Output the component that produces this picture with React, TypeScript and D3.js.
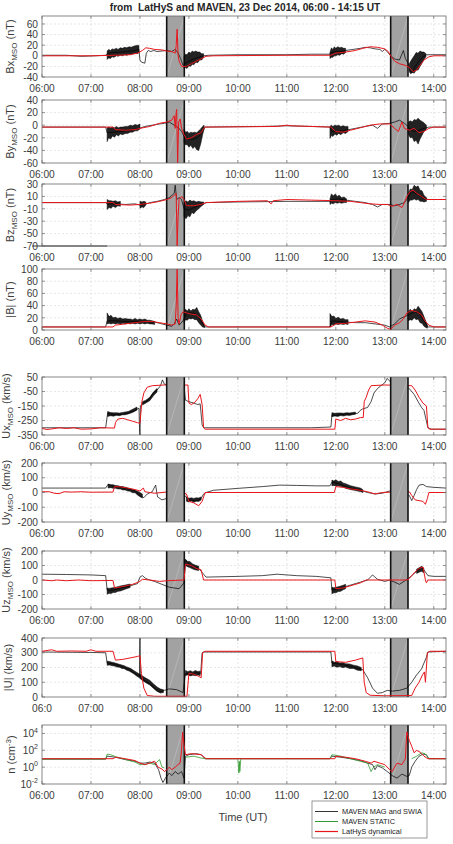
import * as d3 from "d3";
import React from "react";

type Pt = [number, number];
type Env = [number, number, number];

// time axis, decimal hours UT
const hours = [6, 7, 8, 9, 10, 11, 12, 13, 14];
const hourLabels = ["06:00", "07:00", "08:00", "09:00", "10:00", "11:00", "12:00", "13:00", "14:00"];
// shaded intervals (bow shock crossings)
const crossings: [number, number][] = [[8.546, 8.906], [13.12, 13.474]];
const legendNames = ["MAVEN MAG and SWIA", "MAVEN STATIC", "LatHyS dynamical"];

// ---- Bx (nT)
const bxMaven: Pt[] = [[6.0, 1], [6.5, 1], [6.8, -1], [7.1, 0], [7.3, 1], [7.33, 4], [7.45, 6], [7.6, 7], [7.75, 8], [7.9, 10], [7.98, 12], [8.0, -8], [8.03, -12], [8.1, -14], [8.13, 5], [8.17, 10], [8.22, 8], [8.28, 10], [8.35, 8], [8.45, 9], [8.55, 10], [8.65, 8], [8.72, 12], [8.78, 5], [8.83, -5], [8.88, -18], [8.92, -15], [9.0, -10], [9.1, -6], [9.2, -3], [9.3, 0], [9.4, 1], [10.0, 2], [11.0, 2], [11.5, 3], [11.88, 3], [11.9, 6], [12.0, 8], [12.1, 8], [12.2, 10], [12.35, 12], [12.5, 14], [12.6, 16], [12.7, 15], [12.8, 13], [12.9, 12], [12.95, 8], [13.0, 12], [13.05, 8], [13.12, 0], [13.2, -6], [13.3, -8], [13.38, 10], [13.42, -5], [13.48, -15], [13.52, -30], [13.57, -32], [13.62, -20], [13.7, -10], [13.78, -2], [13.85, 2], [14.25, 2]];
const bxMavenNoise: Env[][] = [
  [[7.33, -7, 9], [7.36, -4, 12], [7.4, -5, 10], [7.43, -2, 13], [7.47, -3, 12], [7.52, 0, 14], [7.55, -1, 12], [7.6, 1, 15], [7.64, 0, 14], [7.69, 2, 16], [7.73, 1, 15], [7.78, 3, 17], [7.82, 3, 16], [7.87, 4, 18], [7.91, 5, 19], [7.95, 4, 20], [7.98, 6, 19]],
  [[8.9, -24, -2], [8.93, -22, 3], [8.96, -24, 2], [9.0, -19, 7], [9.03, -20, 5], [9.07, -16, 9], [9.1, -17, 7], [9.14, -12, 9], [9.18, -13, 7], [9.22, -8, 7], [9.26, -8, 4], [9.3, -3, 4]],
  [[11.88, -5, 6], [11.91, -3, 15], [11.94, -3, 12], [11.97, 0, 17], [12.0, 0, 14], [12.04, 2, 17], [12.08, 1, 15], [12.12, 4, 16], [12.16, 3, 14], [12.2, 6, 14]],
  [[13.5, -30, -15], [13.53, -34, -10], [13.57, -31, -4], [13.6, -33, 0], [13.64, -27, 6], [13.68, -27, 5], [13.72, -20, 9], [13.76, -14, 7], [13.8, -7, 7], [13.84, -2, 4]],
];
const bxLathys: Pt[] = [[6.0, 0], [7.0, 0], [7.5, 1], [7.8, 2], [7.95, 5], [8.05, 10], [8.12, 15], [8.2, 14], [8.3, 12], [8.45, 11], [8.55, 9], [8.65, 8], [8.72, 5], [8.74, 20], [8.76, 50], [8.78, 0], [8.8, -10], [8.85, -20], [8.95, -20], [9.05, -15], [9.2, -8], [9.35, -1], [9.5, 0], [11.0, 1], [11.9, 1], [12.0, 5], [12.2, 7], [12.4, 10], [12.55, 14], [12.7, 17], [12.85, 16], [13.0, 13], [13.07, 8], [13.12, 0], [13.2, -10], [13.3, -15], [13.42, -18], [13.5, -22], [13.58, -30], [13.65, -27], [13.72, -18], [13.8, -8], [13.9, -2], [14.0, 0], [14.25, 0]];

// ---- By (nT)
const byMaven: Pt[] = [[6.0, -3], [7.3, -3], [7.33, -12], [7.45, -11], [7.6, -10], [7.8, -8], [7.95, -6], [8.1, -2], [8.25, 0], [8.4, 2], [8.5, 3], [8.6, 5], [8.7, 0], [8.8, -5], [8.85, -10], [8.92, -20], [9.0, -22], [9.1, -22], [9.2, -18], [9.28, -10], [9.33, -3], [10.5, -2], [11.0, -1], [11.5, -2], [11.88, -3], [11.92, -10], [12.05, -10], [12.2, -8], [12.4, -5], [12.6, -2], [12.75, 0], [12.85, -5], [12.95, 2], [13.1, 3], [13.2, 5], [13.3, 8], [13.4, 3], [13.45, 0], [13.5, -5], [13.6, -10], [13.7, -8], [13.8, -5], [13.9, -3], [14.25, -3]];
const byMavenNoise: Env[][] = [
  [[7.33, -26, -4], [7.36, -20, -3], [7.4, -22, -4], [7.44, -17, -3], [7.48, -19, -4], [7.52, -15, -2], [7.56, -17, -4], [7.6, -14, -3], [7.65, -15, -3], [7.7, -13, -2], [7.75, -13, -2], [7.8, -11, 0], [7.85, -11, -1], [7.9, -9, 1], [7.95, -9, 0], [8.0, -6, 2]],
  [[8.9, -28, -6], [8.93, -31, -11], [8.97, -31, -10], [9.0, -35, -13], [9.04, -32, -11], [9.08, -37, -12], [9.12, -34, -11], [9.16, -39, -12], [9.2, -40, -9], [9.24, -30, -6], [9.28, -15, -2], [9.31, -6, 0]],
  [[11.88, -21, -2], [11.91, -16, 0], [11.94, -18, -2], [11.98, -14, 0], [12.02, -16, -1], [12.06, -13, 0], [12.1, -15, -2], [12.15, -12, -1], [12.2, -13, -2], [12.25, -10, -2]],
  [[13.48, -14, 5], [13.52, -20, 7], [13.56, -19, 5], [13.6, -26, 9], [13.64, -24, 8], [13.68, -30, 11], [13.72, -22, 8], [13.76, -16, 6], [13.8, -10, 4], [13.85, -6, 0]],
];
const byLathys: Pt[] = [[6.0, -3], [7.45, -3], [7.5, -7], [7.7, -8], [7.9, -7], [8.0, -5], [8.2, -2], [8.4, 3], [8.55, 5], [8.65, 8], [8.7, 15], [8.72, -5], [8.74, 20], [8.75, 25], [8.77, -60], [8.79, 5], [8.82, 10], [8.85, -5], [8.9, -15], [8.95, -22], [9.05, -20], [9.15, -15], [9.25, -12], [9.32, -3], [10.8, -2], [11.0, 0], [11.1, -1], [11.9, -3], [12.0, -10], [12.15, -11], [12.3, -8], [12.5, -4], [12.7, 0], [12.9, 2], [13.1, 2], [13.2, -5], [13.28, -10], [13.35, 5], [13.4, -5], [13.5, -8], [13.6, -5], [13.7, -12], [13.8, -10], [13.9, -5], [14.0, -3], [14.25, -3]];

// ---- Bz (nT)
const bzMaven: Pt[] = [[6.0, 0], [7.3, 0], [7.33, -2], [7.5, -2], [7.7, -3], [7.9, -2], [8.0, -4], [8.1, -3], [8.2, 0], [8.35, 2], [8.5, 5], [8.6, 8], [8.7, 15], [8.72, 28], [8.75, 5], [8.8, 8], [8.85, 5], [8.9, -10], [9.0, -12], [9.1, -8], [9.2, -5], [9.3, -2], [9.35, 0], [10.0, 1], [11.0, 2], [11.88, 2], [11.92, 5], [12.05, 6], [12.2, 4], [12.4, 2], [12.6, 0], [12.75, -3], [12.85, -7], [12.95, -3], [13.1, -3], [13.2, -5], [13.3, -3], [13.4, 0], [13.48, 8], [13.55, 18], [13.62, 15], [13.7, 12], [13.8, 8], [13.88, 5], [14.25, 5]];
const bzMavenNoise: Env[][] = [
  [[7.33, -11, 5], [7.37, -8, 3], [7.41, -9, 3], [7.45, -6, 2], [7.5, -8, 3], [7.55, -5, 1], [7.6, -6, 2]],
  [[8.0, -9, 2], [8.04, -7, 1], [8.08, -8, 2], [8.12, -4, 1]],
  [[8.9, -22, 0], [8.94, -26, 3], [8.98, -21, 1], [9.02, -23, 4], [9.06, -16, 2], [9.1, -18, 3], [9.15, -13, 1], [9.2, -10, 2], [9.25, -6, 1], [9.3, -3, 1]],
  [[11.88, -3, 6], [11.91, -1, 14], [11.95, -2, 11], [11.99, 0, 14], [12.03, -1, 10], [12.07, 0, 12], [12.12, -1, 8], [12.17, 0, 9], [12.22, 0, 6]],
  [[13.48, 0, 14], [13.52, 4, 22], [13.56, 4, 21], [13.6, 6, 28], [13.64, 4, 25], [13.68, 5, 27], [13.72, 2, 20], [13.76, 2, 19], [13.8, 1, 12], [13.85, 2, 8]],
];
const bzMavenFloor: Pt[] = [[5.8, -70], [7.33, -70]];
const bzLathys: Pt[] = [[6.0, 0], [7.45, 0], [7.5, -3], [7.8, -4], [8.0, -3], [8.2, -1], [8.4, 2], [8.55, 5], [8.65, 8], [8.7, 12], [8.74, 15], [8.76, -72], [8.78, -20], [8.8, 5], [8.85, 10], [8.9, 5], [8.95, -5], [9.1, -5], [9.25, -3], [9.35, 0], [10.0, 2], [10.6, 3], [10.68, -2], [10.72, 3], [11.0, 5], [11.5, 4], [12.0, 3], [12.3, 2], [12.5, 0], [12.7, -2], [12.9, -3], [13.05, -3], [13.15, -6], [13.25, -3], [13.35, -8], [13.4, 0], [13.45, 10], [13.52, 18], [13.58, 20], [13.65, 15], [13.75, 10], [13.85, 5], [14.0, 5], [14.25, 5]];

// ---- |B| (nT)
const bMaven: Pt[] = [[6.0, 5], [7.3, 5], [7.33, 15], [7.5, 15], [7.7, 14], [7.9, 14], [8.1, 14], [8.3, 13], [8.45, 10], [8.55, 8], [8.65, 6], [8.7, 10], [8.75, 18], [8.8, 8], [8.88, 15], [8.95, 27], [9.05, 28], [9.15, 26], [9.25, 15], [9.32, 5], [11.88, 5], [11.92, 15], [12.05, 14], [12.2, 13], [12.4, 12], [12.6, 12], [12.8, 10], [13.0, 8], [13.1, 5], [13.2, 10], [13.3, 18], [13.4, 22], [13.5, 25], [13.6, 30], [13.7, 28], [13.8, 15], [13.88, 5], [14.25, 5]];
const bMavenNoise: Env[][] = [
  [[7.33, 10, 28], [7.37, 11, 22], [7.41, 10, 24], [7.45, 11, 20], [7.5, 10, 21], [7.55, 11, 19], [7.6, 10, 20], [7.65, 11, 18], [7.7, 10, 19], [7.75, 11, 18], [7.8, 10, 18], [7.85, 11, 17], [7.9, 10, 19], [7.95, 11, 17], [8.0, 10, 18], [8.05, 11, 17], [8.1, 10, 18], [8.15, 11, 16], [8.2, 10, 16], [8.25, 10, 15], [8.3, 9, 14]],
  [[8.9, 12, 30], [8.93, 17, 34], [8.97, 16, 31], [9.0, 19, 35], [9.04, 18, 31], [9.08, 19, 34], [9.12, 17, 33], [9.16, 17, 37], [9.2, 12, 30], [9.24, 8, 24], [9.28, 5, 14], [9.32, 4, 7]],
  [[11.88, 5, 27], [11.92, 9, 22], [11.96, 8, 23], [12.0, 10, 19], [12.05, 9, 21], [12.1, 10, 18], [12.15, 9, 19], [12.2, 10, 17], [12.25, 9, 17]],
  [[13.48, 15, 30], [13.52, 17, 34], [13.56, 16, 30], [13.6, 20, 35], [13.64, 17, 33], [13.68, 18, 39], [13.72, 12, 35], [13.76, 11, 30], [13.8, 6, 22], [13.84, 4, 14], [13.87, 3, 8]],
];
const bLathys: Pt[] = [[6.0, 5], [7.45, 5], [7.5, 8], [7.7, 10], [7.9, 12], [8.1, 14], [8.25, 14], [8.4, 12], [8.55, 10], [8.65, 8], [8.72, 10], [8.74, 40], [8.76, 100], [8.78, 20], [8.8, 10], [8.84, 25], [8.88, 30], [8.95, 28], [9.05, 26], [9.15, 25], [9.25, 18], [9.33, 8], [9.4, 5], [11.9, 5], [12.0, 10], [12.2, 11], [12.4, 13], [12.6, 15], [12.8, 13], [12.95, 8], [13.05, 3], [13.12, 1], [13.2, 8], [13.3, 12], [13.38, 18], [13.45, 28], [13.55, 32], [13.65, 30], [13.75, 25], [13.82, 15], [13.9, 8], [14.0, 5], [14.25, 5]];

// ---- Ux (km/s)
const uxMaven: Pt[] = [[6.0, -300], [7.3, -300], [7.34, -200], [7.45, -210], [7.6, -210], [7.75, -200], [7.9, -180], [7.98, -165], [8.0, -400], [8.01, -150], [8.05, -130], [8.12, -120], [8.2, -100], [8.27, -60], [8.35, -40], [8.42, -10], [8.46, 30], [8.5, 0], [8.6, -5], [8.7, -8], [8.8, -5], [8.9, -10], [8.93, -110], [9.0, -120], [9.1, -130], [9.18, -140], [9.23, -135], [9.27, -280], [9.3, -300], [11.5, -300], [11.9, -295], [11.92, -210], [12.0, -215], [12.1, -210], [12.2, -205], [12.35, -205], [12.45, -200], [12.5, -180], [12.55, -170], [12.65, -160], [12.72, -120], [12.78, -60], [12.85, -30], [12.92, -10], [13.0, 10], [13.05, 40], [13.12, 15], [13.2, -5], [13.35, -10], [13.45, -20], [13.5, -30], [13.6, -70], [13.68, -120], [13.75, -160], [13.8, -180], [13.84, -240], [13.88, -300], [13.95, -310], [14.25, -310]];
const uxMavenNoise: Env[][] = [
  [[7.34, -222, -188], [7.4, -217, -195], [7.46, -220, -197], [7.52, -214, -196], [7.58, -217, -199], [7.64, -211, -195], [7.7, -210, -191], [7.76, -205, -188], [7.82, -198, -178], [7.88, -189, -168], [7.94, -178, -157]],
  [[8.05, -143, -120], [8.12, -130, -110], [8.2, -113, -90], [8.28, -78, -52], [8.35, -53, -30]],
  [[11.92, -224, -196], [11.98, -219, -200], [12.04, -222, -198], [12.1, -216, -198], [12.16, -219, -200], [12.22, -213, -196], [12.28, -215, -198], [12.34, -210, -195], [12.4, -207, -192]],
];
const uxLathys: Pt[] = [[6.0, -305], [6.1, -312], [6.2, -308], [6.35, -300], [6.5, -305], [6.65, -300], [6.8, -310], [7.0, -308], [7.2, -300], [7.48, -302], [7.5, -265], [7.55, -240], [7.65, -235], [7.75, -245], [7.85, -255], [7.95, -265], [8.0, -270], [8.04, -120], [8.08, -60], [8.15, -20], [8.25, -10], [8.5, -5], [8.8, -8], [8.98, -5], [9.0, -130], [9.05, -140], [9.12, -125], [9.18, -100], [9.23, -70], [9.27, -140], [9.3, -300], [9.33, -310], [11.98, -310], [12.0, -240], [12.1, -250], [12.2, -235], [12.3, -245], [12.4, -240], [12.5, -230], [12.56, -230], [12.58, -120], [12.62, -90], [12.67, -40], [12.72, -10], [13.0, -5], [13.3, -8], [13.55, -10], [13.62, -40], [13.7, -90], [13.78, -130], [13.85, -150], [13.88, -300], [13.92, -310], [14.25, -310]];

// ---- Uy (km/s)
const uyMaven: Pt[] = [[6.0, 30], [7.3, 30], [7.35, 55], [7.45, 45], [7.6, 35], [7.75, 25], [7.9, 10], [8.0, -20], [8.08, -35], [8.15, -10], [8.25, 5], [8.32, 50], [8.36, -30], [8.45, -50], [8.55, -40], [8.9, -20], [8.95, -30], [9.0, -50], [9.1, -55], [9.2, -50], [9.25, -40], [9.3, -10], [9.35, 0], [9.5, 15], [10.0, 28], [10.5, 40], [10.85, 50], [11.2, 48], [11.6, 45], [11.88, 45], [11.92, 70], [12.0, 65], [12.1, 55], [12.2, 40], [12.35, 25], [12.5, 15], [12.65, 0], [12.8, -10], [12.95, -5], [13.1, 10], [13.5, -20], [13.55, -55], [13.6, -20], [13.65, 20], [13.7, 50], [13.78, 55], [13.85, 40], [14.0, 35], [14.25, 30]];
const uyMavenNoise: Env[][] = [
  [[7.35, 30, 58], [7.4, 33, 52], [7.45, 29, 53], [7.5, 29, 47], [7.55, 24, 46], [7.6, 24, 41], [7.65, 17, 40], [7.7, 17, 36], [7.75, 10, 31], [7.8, 9, 26], [7.85, -2, 21], [7.9, -1, 16], [7.95, -17, 9], [8.0, -28, 0], [8.05, -38, -10]],
  [[8.95, -60, -30], [9.0, -64, -39], [9.05, -58, -36], [9.1, -66, -40], [9.15, -60, -36], [9.2, -61, -37], [9.25, -50, -30]],
  [[11.92, 45, 84], [11.96, 48, 78], [12.0, 44, 86], [12.05, 46, 75], [12.1, 40, 78], [12.15, 38, 65], [12.2, 28, 60], [12.3, 20, 46], [12.4, 13, 38], [12.5, 6, 30], [12.55, 0, 20]],
];
const uyLathys: Pt[] = [[6.0, 5], [6.15, 5], [6.25, -5], [6.35, -8], [6.45, 5], [6.6, 3], [6.8, 5], [7.0, 2], [7.45, 3], [7.48, 40], [7.6, 38], [7.75, 30], [7.9, 20], [8.0, 10], [8.07, 30], [8.1, 5], [8.2, 0], [8.3, -5], [8.45, 0], [8.6, 5], [8.85, 0], [8.95, -10], [9.0, -60], [9.1, -70], [9.2, -90], [9.27, -60], [9.33, 0], [11.97, 0], [12.0, 40], [12.15, 35], [12.3, 25], [12.5, 15], [12.65, 5], [12.8, -10], [12.95, 0], [13.3, 5], [13.5, 5], [13.55, -20], [13.62, -50], [13.7, -55], [13.78, -60], [13.83, -80], [13.87, -40], [13.9, 0], [14.25, 0]];

// ---- Uz (km/s)
const uzMaven: Pt[] = [[6.0, 40], [6.5, 38], [7.0, 35], [7.3, 30], [7.33, -70], [7.45, -70], [7.6, -55], [7.8, -40], [7.95, -25], [8.0, 20], [8.05, 30], [8.12, 10], [8.2, 0], [8.3, -10], [8.45, -30], [8.6, -50], [8.8, -60], [8.9, -20], [8.93, 140], [9.0, 110], [9.1, 90], [9.2, 80], [9.3, 40], [9.35, 20], [10.0, 25], [10.5, 30], [10.8, 40], [11.2, 30], [11.6, 25], [11.9, 15], [11.92, -70], [12.05, -60], [12.2, -45], [12.35, -30], [12.5, -15], [12.65, 0], [12.75, 35], [12.85, 5], [13.0, -10], [13.1, 0], [13.3, -30], [13.48, 10], [13.55, 30], [13.65, 60], [13.75, 90], [13.82, 60], [13.88, 30], [14.0, 25], [14.25, 25]];
const uzMavenNoise: Env[][] = [
  [[7.33, -98, -55], [7.37, -92, -58], [7.41, -93, -55], [7.45, -87, -54], [7.5, -86, -50], [7.55, -78, -46], [7.6, -76, -41], [7.7, -63, -35], [7.8, -52, -28]],
  [[8.93, 100, 143], [8.97, 92, 128], [9.02, 86, 127], [9.07, 77, 112], [9.12, 71, 104], [9.2, 65, 95]],
  [[11.92, -95, -50], [11.96, -88, -54], [12.0, -88, -50], [12.05, -80, -46], [12.1, -78, -42], [12.15, -67, -36], [12.2, -60, -30]],
  [[13.65, 45, 75], [13.7, 54, 84], [13.75, 60, 94], [13.8, 50, 80]],
];
const uzLathys: Pt[] = [[6.0, 0], [6.2, -5], [6.3, 0], [6.5, -5], [6.75, 0], [7.0, -5], [7.45, -3], [7.48, -55], [7.65, -45], [7.85, -30], [8.0, -10], [8.05, 5], [8.2, 0], [8.4, -10], [8.55, -5], [8.9, 0], [8.93, 110], [9.05, 100], [9.15, 80], [9.25, 70], [9.3, 0], [11.98, 0], [12.0, -60], [12.15, -55], [12.3, -40], [12.5, -20], [12.62, 0], [13.45, 0], [13.5, 10], [13.6, 50], [13.7, 80], [13.78, 90], [13.83, 0], [13.85, -20], [13.88, 0], [14.25, 0]];

// ---- |U| (km/s)
const uMaven: Pt[] = [[6.0, 305], [7.0, 302], [7.3, 300], [7.33, 230], [7.45, 225], [7.6, 210], [7.75, 190], [7.9, 160], [7.99, 140], [8.0, 450], [8.01, 130], [8.1, 110], [8.2, 90], [8.3, 60], [8.4, 35], [8.5, 45], [8.6, 55], [8.75, 50], [8.88, 30], [8.93, 160], [9.05, 155], [9.15, 165], [9.24, 160], [9.27, 300], [9.3, 305], [11.9, 305], [11.92, 230], [12.05, 225], [12.2, 215], [12.4, 200], [12.55, 185], [12.65, 130], [12.75, 60], [12.85, 25], [12.95, 30], [13.05, 45], [13.15, 40], [13.3, 45], [13.45, 60], [13.55, 100], [13.65, 150], [13.75, 190], [13.85, 270], [13.88, 305], [14.25, 310]];
const uMavenNoise: Env[][] = [
  [[7.33, 215, 243], [7.38, 217, 240], [7.43, 212, 236], [7.48, 210, 232], [7.53, 203, 227], [7.58, 202, 222], [7.63, 194, 217], [7.68, 192, 212], [7.73, 182, 204], [7.78, 176, 198], [7.83, 166, 189], [7.88, 156, 178], [7.93, 143, 168], [7.98, 132, 158], [8.05, 112, 143], [8.12, 97, 128], [8.2, 82, 113], [8.28, 57, 88], [8.35, 38, 68], [8.42, 27, 54], [8.48, 30, 50]],
  [[8.93, 145, 180], [8.98, 150, 172], [9.03, 143, 178], [9.08, 148, 170], [9.13, 144, 180], [9.18, 150, 173], [9.23, 145, 175]],
  [[11.92, 205, 245], [11.97, 210, 236], [12.02, 202, 240], [12.08, 206, 231], [12.14, 199, 234], [12.2, 203, 226], [12.28, 193, 224], [12.36, 194, 216], [12.44, 182, 211], [12.52, 178, 200]],
];
const uLathys: Pt[] = [[6.0, 310], [6.2, 320], [6.3, 310], [6.6, 312], [6.9, 310], [7.0, 320], [7.1, 310], [7.45, 310], [7.5, 250], [7.65, 255], [7.8, 265], [7.95, 275], [8.0, 280], [8.03, 160], [8.08, 60], [8.15, 10], [8.3, 5], [8.96, 5], [9.0, 160], [9.1, 155], [9.2, 140], [9.25, 130], [9.28, 300], [9.33, 310], [11.98, 310], [12.0, 240], [12.2, 235], [12.4, 250], [12.55, 265], [12.58, 100], [12.62, 30], [12.7, 12], [13.0, 8], [13.55, 10], [13.62, 60], [13.7, 100], [13.77, 150], [13.81, 170], [13.83, 100], [13.87, 300], [13.92, 310], [14.25, 310]];

// ---- n (cm^-3)
const nMaven: Pt[] = [[6.0, 9], [7.3, 9], [7.33, 20], [7.5, 15], [7.7, 8], [7.9, 5], [8.0, 3], [8.1, 3], [8.2, 4], [8.3, 3], [8.38, 0.5], [8.43, 0.05], [8.47, 0.015], [8.52, 0.05], [8.6, 0.2], [8.65, 0.1], [8.72, 0.3], [8.78, 0.15], [8.85, 0.3], [8.9, 0.05], [8.93, 20], [9.0, 30], [9.15, 40], [9.25, 30], [9.33, 10], [11.88, 10], [11.92, 20], [12.1, 15], [12.3, 10], [12.5, 6], [12.65, 3], [12.75, 2], [12.8, 0.5], [12.85, 1.5], [12.95, 0.8], [13.05, 0.3], [13.15, 0.1], [13.25, 0.05], [13.35, 0.15], [13.45, 0.08], [13.5, 0.1], [13.55, 1], [13.62, 5], [13.7, 20], [13.78, 35], [13.85, 30], [13.9, 10], [14.25, 10]];
const nStatic: Pt[][] = [
  [[6.0, 9], [7.3, 9], [7.33, 35], [7.4, 30], [7.5, 18], [7.7, 8], [7.9, 4], [8.0, 2], [8.1, 2], [8.2, 3], [8.3, 2], [8.4, 8], [8.45, 1], [8.5, 0.8]],
  [[8.93, 15], [9.1, 20], [9.25, 12], [9.33, 10], [10.0, 10], [10.02, 0.2], [10.03, 5], [10.04, 0.3], [10.06, 10], [11.88, 10], [11.92, 30], [12.1, 20], [12.3, 10], [12.5, 5], [12.65, 3], [12.72, 0.3], [12.77, 1], [12.85, 2], [13.0, 1]],
  [[13.55, 10], [13.65, 20], [13.75, 50], [13.82, 40], [13.9, 10], [14.25, 10]],
];
const nLathys: Pt[] = [[6.0, 10], [7.45, 10], [7.5, 15], [7.7, 10], [7.9, 6], [8.0, 3], [8.1, 2], [8.2, 3], [8.3, 5], [8.37, 1], [8.45, 0.6], [8.5, 0.3], [8.55, 0.5], [8.6, 1], [8.65, 0.5], [8.72, 1], [8.78, 2], [8.82, 3], [8.85, 100], [8.87, 15000], [8.9, 500], [8.93, 30], [9.05, 40], [9.25, 30], [9.35, 10], [11.98, 10], [12.0, 20], [12.2, 15], [12.4, 10], [12.6, 5], [12.72, 3], [12.78, 5], [12.9, 3], [13.0, 2], [13.1, 0.5], [13.15, 0.3], [13.25, 3], [13.35, 2], [13.42, 10], [13.45, 15000], [13.5, 1500], [13.55, 300], [13.6, 50], [13.65, 100], [13.72, 60], [13.8, 20], [13.88, 10], [14.25, 10]];

interface PanelSpec {
  id: string;
  top: number;
  bottom: number;
  domain: [number, number];
  ticks: number[];
  log?: boolean;
  name: string;
  sub?: string;
  sup?: string;
  unit: string;
  labelX: number;
  maven: Pt[];
  noise: Env[][];
  lathys: Pt[];
  statik?: Pt[][];
  floor?: Pt[];
  shadeOnTop?: boolean;
  firstHour?: string;
}

const panels: PanelSpec[] = [
  { id: "bx", top: 16, bottom: 77, domain: [-40, 75], ticks: [-40, -20, 0, 20, 40, 60], name: "Bx", sub: "MSO", unit: " (nT)", labelX: 10, maven: bxMaven, noise: bxMavenNoise, lathys: bxLathys },
  { id: "by", top: 100, bottom: 163, domain: [-60, 40], ticks: [-60, -40, -20, 0, 20, 40], name: "By", sub: "MSO", unit: " (nT)", labelX: 10, maven: byMaven, noise: byMavenNoise, lathys: byLathys },
  { id: "bz", top: 184, bottom: 246, domain: [-70, 30], ticks: [-70, -50, -30, -10, 10, 30], name: "Bz", sub: "MSO", unit: " (nT)", labelX: 10, maven: bzMaven, noise: bzMavenNoise, lathys: bzLathys, floor: bzMavenFloor },
  { id: "b", top: 269, bottom: 330, domain: [0, 100], ticks: [0, 20, 40, 60, 80, 100], name: "|B|", unit: " (nT)", labelX: 10, maven: bMaven, noise: bMavenNoise, lathys: bLathys },
  { id: "ux", top: 377, bottom: 435, domain: [-350, 50], ticks: [-350, -250, -150, -50, 50], name: "Ux", sub: "MSO", unit: " (km/s)", labelX: 5.5, maven: uxMaven, noise: uxMavenNoise, lathys: uxLathys, shadeOnTop: true },
  { id: "uy", top: 463, bottom: 522, domain: [-200, 200], ticks: [-200, -100, 0, 100, 200], name: "Uy", sub: "MSO", unit: " (km/s)", labelX: 5.5, maven: uyMaven, noise: uyMavenNoise, lathys: uyLathys, shadeOnTop: true },
  { id: "uz", top: 551, bottom: 609, domain: [-200, 200], ticks: [-200, -100, 0, 100, 200], name: "Uz", sub: "MSO", unit: " (km/s)", labelX: 5.5, maven: uzMaven, noise: uzMavenNoise, lathys: uzLathys },
  { id: "u", top: 638, bottom: 697, domain: [0, 400], ticks: [0, 100, 200, 300, 400], name: "|U|", unit: " (km/s)", labelX: 8, maven: uMaven, noise: uMavenNoise, lathys: uLathys, firstHour: "06:0" },
  { id: "n", top: 725, bottom: 784, domain: [0.01, 1e5], ticks: [0.01, 1, 100, 1e4], log: true, name: "n (cm", sup: "-3", unit: ")", labelX: 11, maven: nMaven, noise: [], lathys: nLathys, statik: nStatic },
];

const FONT = "'Liberation Sans', Arial, Helvetica, sans-serif";
const AXIS = "#6a6a6a";
const TEXT = "#3c3c3c";
const RED = "#e8161b";
const GREEN = "#2f9a2f";

const legendEntries = [
  { name: legendNames[0], color: "#000000", width: 0.8 },
  { name: legendNames[1], color: GREEN, width: 1 },
  { name: legendNames[2], color: RED, width: 1.2 },
];

const x = d3.scaleLinear().domain([6, 14.25]).range([42, 446]);

function Panel({ p }: { p: PanelSpec }) {
  const y = p.log
    ? d3.scaleLog().domain(p.domain).range([p.bottom, p.top])
    : d3.scaleLinear().domain(p.domain).range([p.bottom, p.top]);
  const line = d3.line<Pt>().x((d) => x(d[0])).y((d) => y(d[1]));
  const band = d3.area<Env>().x((d) => x(d[0])).y0((d) => y(d[1])).y1((d) => y(d[2]));
  const [x0, x1] = x.range();
  const clip = `clip-${p.id}`;
  const h = p.bottom - p.top;

  const shades = crossings.map(([a, b], i) => (
    <g key={i}>
      <rect x={x(a)} y={p.top} width={x(b) - x(a)} height={h} fill="#a2a2a2" />
      <line x1={x(a)} y1={p.bottom} x2={x(b)} y2={p.top} stroke="#fff" strokeOpacity={0.35} strokeWidth={0.6} />
      <line x1={x(a)} x2={x(a)} y1={p.top} y2={p.bottom} stroke="#111" strokeWidth={1.6} />
      <line x1={x(b)} x2={x(b)} y1={p.top} y2={p.bottom} stroke="#111" strokeWidth={1.6} />
    </g>
  ));

  const series = (
    <g clipPath={`url(#${clip})`}>
      {p.noise.map((seg, i) => (
        <path key={i} d={band(seg) ?? ""} fill="#0a0a0a" fillOpacity={0.9} stroke="#000" strokeWidth={0.5} strokeLinejoin="round" />
      ))}
      <path d={line(p.maven) ?? ""} fill="none" stroke="#000" strokeWidth={0.7} />
      {p.statik?.map((seg, i) => (
        <path key={i} d={line(seg) ?? ""} fill="none" stroke={GREEN} strokeWidth={0.8} />
      ))}
      <path d={line(p.lathys) ?? ""} fill="none" stroke={RED} strokeWidth={1} />
    </g>
  );

  const expOf = (v: number) => Math.round(Math.log10(v));

  return (
    <g>
      <defs>
        <clipPath id={clip}>
          <rect x={x0} y={p.top} width={x1 - x0} height={h} />
        </clipPath>
      </defs>
      {/* grid */}
      {hours.slice(1).map((t) => (
        <line key={`gx${t}`} x1={x(t)} x2={x(t)} y1={p.top} y2={p.bottom} stroke="#cfcfcf" strokeWidth={0.5} strokeDasharray="2,2" />
      ))}
      {p.ticks.filter((v) => v !== p.domain[0] && v !== p.domain[1]).map((v) => (
        <line key={`gy${v}`} x1={x0} x2={x1} y1={y(v)} y2={y(v)} stroke="#cfcfcf" strokeWidth={0.5} strokeDasharray="2,2" />
      ))}
      {p.shadeOnTop ? <>{series}{shades}</> : <>{shades}{series}</>}
      {p.floor && <path d={line(p.floor) ?? ""} fill="none" stroke="#333" strokeWidth={1.2} />}
      {/* axes box and ticks */}
      <rect x={x0} y={p.top} width={x1 - x0} height={h} fill="none" stroke={AXIS} strokeWidth={0.8} />
      {hours.map((t) => (
        <g key={`tx${t}`} stroke={AXIS} strokeWidth={0.7}>
          <line x1={x(t)} x2={x(t)} y1={p.bottom} y2={p.bottom - 3} />
          <line x1={x(t)} x2={x(t)} y1={p.top} y2={p.top + 3} />
        </g>
      ))}
      {p.ticks.map((v) => (
        <g key={`ty${v}`} stroke={AXIS} strokeWidth={0.7}>
          <line x1={x0} x2={x0 + 3} y1={y(v)} y2={y(v)} />
          <line x1={x1} x2={x1 - 3} y1={y(v)} y2={y(v)} />
        </g>
      ))}
      {/* tick labels */}
      {hours.map((t, i) => (
        <text key={`lx${t}`} x={x(t)} y={p.bottom + 14.5} textAnchor="middle" fontSize={10.2} fill={TEXT} fontFamily={FONT}>
          {i === 0 && p.firstHour ? p.firstHour : hourLabels[i]}
        </text>
      ))}
      {p.ticks.map((v) => (
        <text key={`ly${v}`} x={38} y={y(v) + 3.7} textAnchor="end" fontSize={10.2} fill={TEXT} fontFamily={FONT}>
          {p.log ? (
            <>
              10<tspan dy={-4.5} fontSize={7}>{expOf(v)}</tspan>
            </>
          ) : (
            v
          )}
        </text>
      ))}
      {/* y axis title */}
      <text
        transform={`translate(${p.labelX},${(p.top + p.bottom) / 2}) rotate(-90)`}
        y={4}
        textAnchor="middle"
        fontSize={11}
        fill={TEXT}
        fontFamily={FONT}
      >
        {p.name}
        {p.sub && <tspan dy={3} fontSize={8}>{p.sub}</tspan>}
        {p.sup && <tspan dy={-4.5} fontSize={8}>{p.sup}</tspan>}
        <tspan dy={p.sub ? -3 : p.sup ? 4.5 : 0}>{p.unit}</tspan>
      </text>
    </g>
  );
}

export default function App() {
  return (
    <div style={{ position: "absolute", left: 0, top: 0 }}>
      <svg width={453} height={844} style={{ display: "block", background: "#fff" }}>
        <text x={245} y={10.5} textAnchor="middle" fontSize={10.2} fontWeight="bold" fill="#262626" fontFamily={FONT} style={{ whiteSpace: "pre" }}>
          from  LatHyS and MAVEN, 23 Dec 2014, 06:00 - 14:15 UT
        </text>
        {panels.map((p) => (
          <Panel key={p.id} p={p} />
        ))}
        <text x={243} y={821} textAnchor="middle" fontSize={11} fill={TEXT} fontFamily={FONT}>
          Time (UT)
        </text>
        <g>
          <rect x={312} y={801} width={115} height={37} fill="#fff" stroke="#555" strokeWidth={0.6} />
          {legendEntries.map((e, i) => (
            <g key={e.name}>
              <line x1={315} x2={338} y1={811.5 + i * 10} y2={811.5 + i * 10} stroke={e.color} strokeWidth={e.width} />
              <text x={342} y={814 + i * 10} fontSize={7.4} fill="#222" fontFamily={FONT}>
                {e.name}
              </text>
            </g>
          ))}
        </g>
      </svg>
    </div>
  );
}
